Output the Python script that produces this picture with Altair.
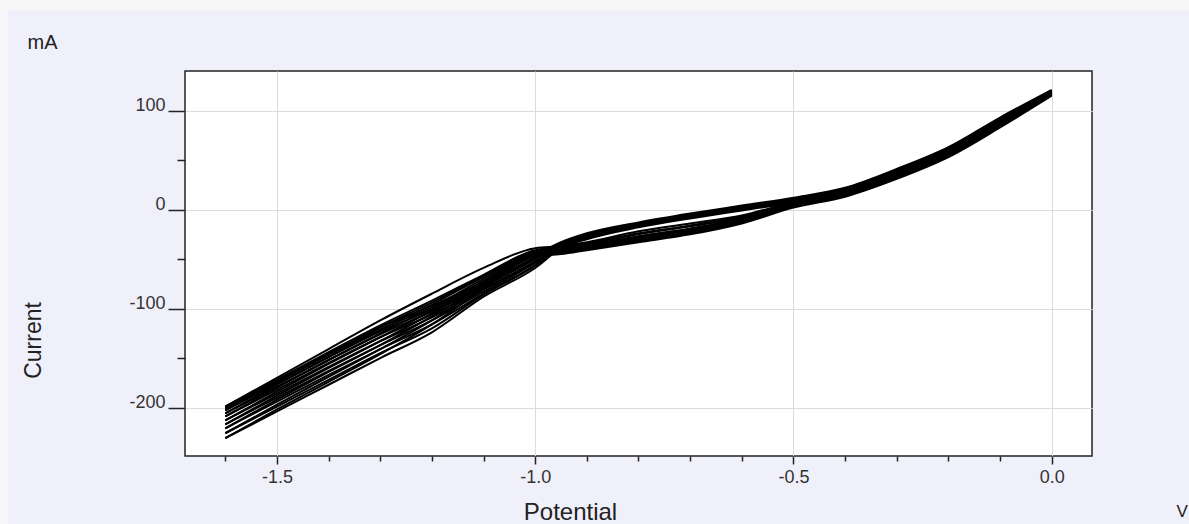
import altair as alt
import pandas as pd

# Potential grid (V) shared by every branch
potential = [0.0, -0.1, -0.2, -0.3, -0.4, -0.5, -0.6, -0.7, -0.8, -0.9,
             -0.95, -1.0, -1.1, -1.2, -1.3, -1.4, -1.5, -1.6]

# Cathodic sweeps (0 V -> -1.6 V), current in mA, one row per cycle
forward = [
    [120, 92, 62, 40, 21, 8, -6, -14, -22, -33, -37, -39, -59, -85, -112, -141, -170, -199],
    [119, 91, 61, 39, 20, 7, -7, -16, -24, -34, -38, -41, -66, -92, -117, -144, -172, -201],
    [119, 90, 60, 38, 19, 6, -8, -17, -25, -35, -39, -42, -67, -94, -119, -146, -174, -203],
    [118, 89, 59, 37, 18, 6, -9, -19, -27, -36, -40, -42, -68, -96, -122, -149, -177, -206],
    [118, 88, 58, 36, 17, 5, -10, -20, -28, -37, -41, -43, -70, -99, -125, -152, -180, -209],
    [117, 87, 57, 35, 16, 4, -11, -21, -29, -38, -42, -44, -72, -102, -129, -156, -184, -213],
    [117, 86, 56, 34, 15, 4, -12, -22, -30, -39, -43, -44, -74, -105, -133, -160, -188, -217],
    [116, 85, 55, 33, 14, 3, -12, -23, -31, -39, -43, -45, -76, -108, -137, -164, -192, -221],
    [116, 84, 54, 32, 14, 3, -13, -24, -32, -40, -44, -46, -78, -112, -141, -169, -197, -226],
    [115, 83, 53, 31, 13, 2, -14, -25, -33, -41, -45, -47, -80, -116, -146, -174, -202, -231],
]

# Anodic sweeps (-1.6 V -> 0 V), listed on the same potential grid
reverse = [
    [121, 93, 63, 41, 22, 12, 4, -4, -13, -24, -33, -46, -73, -97, -119, -145, -172, -199],
    [120, 92, 62, 40, 21, 11, 3, -5, -14, -25, -34, -48, -75, -99, -121, -147, -174, -201],
    [120, 91, 61, 39, 21, 11, 3, -5, -14, -25, -35, -49, -76, -101, -123, -149, -176, -203],
    [119, 90, 60, 38, 20, 10, 2, -6, -15, -26, -35, -50, -78, -103, -126, -152, -179, -206],
    [119, 89, 59, 37, 19, 10, 2, -6, -15, -27, -36, -52, -80, -106, -129, -155, -182, -209],
    [118, 88, 58, 36, 18, 9, 1, -7, -16, -27, -37, -53, -81, -109, -133, -159, -186, -213],
    [118, 87, 57, 35, 17, 9, 1, -7, -16, -28, -37, -54, -83, -112, -137, -163, -190, -217],
    [117, 86, 56, 34, 16, 8, 0, -8, -17, -29, -38, -56, -85, -116, -141, -167, -194, -221],
    [117, 85, 55, 33, 15, 8, 0, -8, -17, -29, -39, -57, -86, -120, -145, -172, -199, -226],
    [116, 84, 54, 32, 14, 7, -1, -9, -18, -30, -39, -59, -88, -124, -150, -177, -204, -231],
]

x_major = [-1.5, -1.0, -0.5, 0.0]
x_minor = [-1.6, -1.4, -1.3, -1.2, -1.1, -0.9, -0.8, -0.7, -0.6, -0.4, -0.3, -0.2, -0.1]
y_major = [-200, -100, 0, 100]
y_minor = [-150, -50, 50]

rows = []
for c, (fw, rv) in enumerate(zip(forward, reverse)):
    for v, i in zip(potential, fw):
        rows.append({"branch": f"c{c}f", "V": v, "I": i})
    for v, i in zip(potential, rv):
        rows.append({"branch": f"c{c}r", "V": v, "I": i})
df = pd.DataFrame(rows)

FONT = "Liberation Sans"
x_scale = alt.Scale(domain=[-1.678, 0.078], nice=False, zero=False)
y_scale = alt.Scale(domain=[-249, 140], nice=False, zero=False)
minus_fix = "replace(format(datum.value, '{}'), '\u2212', '-')"

ax_x = alt.Axis(
    orient="bottom", values=x_major, labelExpr=minus_fix.format(".1f"),
    tickSize=8, tickWidth=1.5, tickColor="#222", domain=False,
    labelFont=FONT, labelFontSize=18, labelColor="#333", labelPadding=4,
    labelBaseline="top", labelFlush=False,
    grid=True, gridColor="#dcdcdc", gridWidth=1,
    title="Potential", titleFont=FONT, titleFontSize=24, titleFontWeight="normal",
    titleColor="#222", titleX=385, titleY=63, titleAlign="center",
    titleBaseline="alphabetic", titleAnchor="start",
)
ax_y = alt.Axis(
    orient="left", values=y_major, labelExpr=minus_fix.format("d"),
    tickSize=17, tickWidth=1.5, tickColor="#222", domain=False,
    labelFont=FONT, labelFontSize=18, labelColor="#333", labelPadding=3,
    labelAlign="right", labelBaseline="alphabetic", labelFlush=False,
    grid=True, gridColor="#dcdcdc", gridWidth=1,
    title="Current", titleFont=FONT, titleFontSize=23, titleFontWeight="normal",
    titleColor="#222", titleAngle=270, titleX=-145, titleY=269,
    titleAlign="center", titleBaseline="alphabetic", titleAnchor="start",
)
ax_x_minor = alt.Axis(
    orient="bottom", values=x_minor, tickSize=5, tickWidth=1.5, tickColor="#222",
    labels=False, grid=False, domain=False,
    title="V", titleFont=FONT, titleFontSize=17, titleFontWeight="normal",
    titleColor="#222", titleX=991, titleY=60, titleAlign="left",
    titleBaseline="alphabetic", titleAnchor="start",
)
ax_y_minor = alt.Axis(
    orient="left", values=y_minor, tickSize=8, tickWidth=1.5, tickColor="#222",
    labels=False, grid=False, domain=False,
    title="mA", titleFont=FONT, titleFontSize=20, titleFontWeight="normal",
    titleColor="#222", titleAngle=0, titleX=-158, titleY=-23, titleAlign="left",
    titleBaseline="alphabetic", titleAnchor="start",
)

curves = alt.Chart(df).mark_line(
    color="black", strokeWidth=2, interpolate="monotone"
).encode(
    x=alt.X("V:Q", scale=x_scale, axis=ax_x),
    y=alt.Y("I:Q", scale=y_scale, axis=ax_y),
    detail="branch:N",
)

minor_ticks = alt.Chart(df).mark_point(opacity=0, size=0).encode(
    x=alt.X("V:Q", scale=x_scale, axis=ax_x_minor),
    y=alt.Y("I:Q", scale=y_scale, axis=ax_y_minor),
)

# thin light strips along the top and left edges of the window
strip_src = alt.Data(values=[{"k": 0}])
top_strip = alt.Chart(strip_src).mark_rect(color="#f7f7f8").encode(
    x=alt.value(-185), x2=alt.value(1004), y=alt.value(-71), y2=alt.value(-61)
)
left_strip = alt.Chart(strip_src).mark_rect(color="#f5f5fa").encode(
    x=alt.value(-185), x2=alt.value(-177), y=alt.value(-61), y2=alt.value(453)
)

chart = alt.layer(top_strip, left_strip, curves, minor_ticks).resolve_axis(
    x="independent", y="independent"
).properties(
    width=907, height=385,
    background="#f0f0fa",
    padding={"left": 185, "top": 71, "right": 97, "bottom": 68},
    autosize=alt.AutoSizeParams(type="none"),
).configure_view(
    fill="white", stroke="#222", strokeWidth=1.5,
)

chart.save("out.html", embed_options={"renderer": "svg", "actions": False})
